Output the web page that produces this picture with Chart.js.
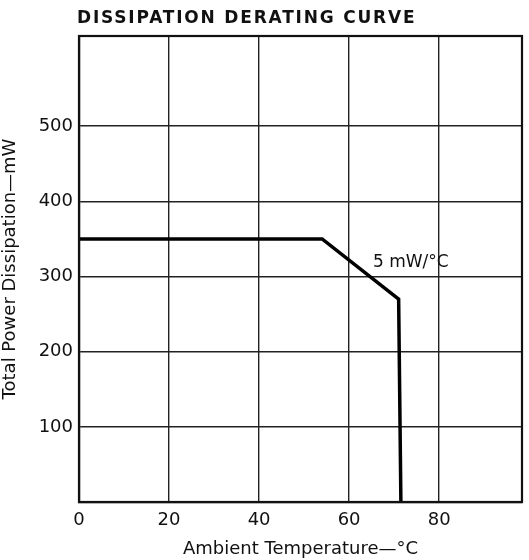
<!DOCTYPE html>
<html>
<head>
<meta charset="utf-8">
<script src="https://cdn.jsdelivr.net/npm/chart.js@4"></script>
<style>
html,body{margin:0;padding:0;background:#fff;}
#wrap{width:529px;height:560px;position:relative;}
</style>
</head>
<body>
<div id="wrap"><canvas id="c" width="529" height="560"></canvas></div>
<script>
// Data
const temperatures = [0, 54, 71, 71.5];
const powerMW = [350, 350, 270, 0];
const yTickValues = [100, 200, 300, 400, 500];
const xTickValues = [0, 20, 40, 60, 80];
const chartTitle = 'DISSIPATION DERATING CURVE';
const xTitle = 'Ambient Temperature\u2014\u00B0C';
const yTitle = 'Total Power Dissipation\u2014mW';
const slopeLabel = '5 mW/\u00B0C';
const slopeLabelAt = {x: 65.3, y: 313};

const FONT = '"DejaVu Sans", Verdana, sans-serif';

const points = temperatures.map((t, i) => ({x: t, y: powerMW[i]}));

const overlay = {
  id: 'overlay',
  afterDatasetsDraw(chart) {
    const ctx = chart.ctx;
    const a = chart.chartArea;
    ctx.save();
    ctx.strokeStyle = '#111';
    ctx.lineWidth = 2.2;
    ctx.strokeRect(a.left, a.top, a.right - a.left, a.bottom - a.top);
    ctx.fillStyle = '#111';
    ctx.font = 'bold 17px ' + FONT;
    ctx.textBaseline = 'alphabetic';
    ctx.textAlign = 'left';
    if ('letterSpacing' in ctx) ctx.letterSpacing = '1.8px';
    ctx.fillText(chartTitle, 77, 23);
    if ('letterSpacing' in ctx) ctx.letterSpacing = '0px';
    const xs = chart.scales.x, ys = chart.scales.y;
    ctx.font = '17px ' + FONT;
    ctx.fillText(slopeLabel, xs.getPixelForValue(slopeLabelAt.x), ys.getPixelForValue(slopeLabelAt.y));
    ctx.restore();
  }
};

new Chart(document.getElementById('c'), {
  type: 'scatter',
  data: {
    datasets: [{
      data: points,
      showLine: true,
      borderColor: '#000',
      borderWidth: 3.5,
      borderJoinStyle: 'miter',
      pointRadius: 0,
      tension: 0,
      fill: false,
      clip: false
    }]
  },
  options: {
    responsive: false,
    animation: false,
    layout: {padding: {left: 0, right: 7, top: 36, bottom: 0}},
    plugins: {legend: {display: false}, tooltip: {enabled: false}, title: {display: false}},
    scales: {
      x: {
        type: 'linear',
        min: 0,
        max: 98.4,
        afterFit(s) { s.height = 58; },
        afterBuildTicks(s) { s.ticks = xTickValues.map(v => ({value: v})); },
        ticks: {
          color: '#111',
          font: {family: FONT, size: 18},
          padding: 8,
          includeBounds: false,
          callback: v => String(v)
        },
        grid: {
          color: '#222',
          lineWidth: 1.4,
          drawTicks: false
        },
        border: {display: true, color: '#111', width: 2.2},
        title: {
          display: true,
          text: xTitle,
          color: '#111',
          font: {family: FONT, size: 18},
          padding: {top: 0, bottom: 0}
        }
      },
      y: {
        type: 'linear',
        min: 0,
        max: 620,
        afterFit(s) { s.width = 79; },
        afterBuildTicks(s) { s.ticks = [0].concat(yTickValues).map(v => ({value: v})); },
        ticks: {
          color: '#111',
          font: {family: FONT, size: 18},
          padding: 6,
          callback: v => (yTickValues.includes(v) ? String(v) : '')
        },
        grid: {
          color: '#222',
          lineWidth: 1.4,
          drawTicks: false
        },
        border: {display: true, color: '#111', width: 2.2},
        title: {
          display: true,
          text: yTitle,
          color: '#111',
          font: {family: FONT, size: 18},
          padding: {top: 0, bottom: 2}
        }
      }
    }
  },
  plugins: [overlay]
});
</script>
</body>
</html>
